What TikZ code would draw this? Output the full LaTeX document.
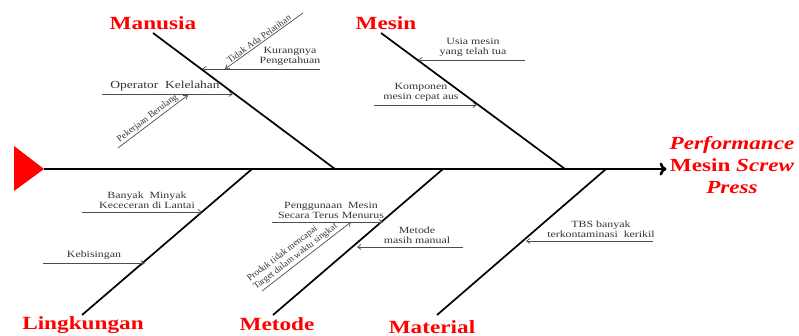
\documentclass[tikz,border=0pt]{standalone}
\usepackage{fontspec}
\setmainfont{Liberation Serif}[FakeStretch=1.25]
\newfontfamily\rotfont{Liberation Serif}
\usetikzlibrary{arrows.meta,calc}
\definecolor{fishred}{RGB}{255,0,0}
\tikzset{
  bone/.style={line width=1.7pt,black},
  cause/.style={line width=0.7pt,black!70,-{Straight Barb[length=3.5pt,width=5pt]}},
  causetext/.style={text=black!80,font=\fontsize{9.5}{10.2}\selectfont,align=center,inner sep=1pt,anchor=south},
  rottext/.style={text=black!80,font=\rotfont\fontsize{9.3}{10.3}\selectfont,align=left,inner sep=1.2pt,anchor=south},
  cattext/.style={text=fishred,font=\fontsize{18.6}{20}\selectfont\bfseries,inner sep=1pt},
}
\begin{document}
\begin{tikzpicture}[x=1pt,y=-1pt]
\useasboundingbox (0,0) rectangle (799,336);
% head triangle and spine
\fill[fishred] (14,146) -- (44,169) -- (14,191) -- cycle;
\coordinate (tail) at (44,169);
\node[text=fishred,font=\fontsize{18.5}{22}\selectfont\bfseries,align=center,inner sep=2pt] (effect) at (732,165)
  {\textit{Performance}\\Mesin \textit{Screw}\\\textit{Press}};
\draw[line width=2.6pt,-{To[length=7pt,width=13pt]}] (tail) -- ([xshift=-1pt]effect.west |- tail);

% category labels
\node[cattext] (manusia) at (153,23) {Manusia};
\node[cattext] (mesin) at (386,23) {Mesin};
\node[cattext] (lingk) at (83,325) {Lingkungan};
\node[cattext] (metode) at (277,324) {Metode};
\node[cattext] (material) at (432,327) {Material};

% bones
\coordinate (m1a) at (153,33); \coordinate (m1b) at (335,169);
\coordinate (m2a) at (381,33); \coordinate (m2b) at (565,169);
\coordinate (l1a) at (82,315); \coordinate (l1b) at (252,169);
\coordinate (l2a) at (273,315); \coordinate (l2b) at (443,169);
\coordinate (l3a) at (437,315); \coordinate (l3b) at (606,169);
\draw[bone] (m1a) -- (m1b);
\draw[bone] (m2a) -- (m2b);
\draw[bone] (l1a) -- (l1b);
\draw[bone] (l2a) -- (l2b);
\draw[bone] (l3a) -- (l3b);

% Manusia causes
\coordinate (c1s) at (303,13); \coordinate (c1e) at (225,69);
\draw[cause] (c1s) -- (c1e);
\node[rottext,rotate=35.7] (t1) at ($(c1e)!0.47!(c1s)$) {Tidak Ada Pelatihan};

\coordinate (c2s) at (320,69); \coordinate (c2e) at (202,69);
\draw[cause] (c2s) -- (c2e);
\node[causetext] (t2) at (290,67) {Kurangnya\\Pengetahuan};

\coordinate (c3s) at (102,94); \coordinate (c3e) at (233,94);
\draw[cause] (c3s) -- (c3e);
\node[causetext,font=\fontsize{10.8}{12}\selectfont] (t3) at (165,92) {Operator\ \ Kelelahan};

\coordinate (c4s) at (118,148); \coordinate (c4e) at (188,95);
\draw[cause] (c4s) -- (c4e);
\node[rottext,rotate=37.1] (t4) at ($(c4s)!0.47!(c4e)$) {Pekerjaan Berulang};

% Mesin causes
\coordinate (c5s) at (525,60); \coordinate (c5e) at (418,60);
\draw[cause] (c5s) -- (c5e);
\node[causetext] (t5) at (473,58) {Usia mesin\\yang\ telah\ tua};

\coordinate (c6s) at (374,105); \coordinate (c6e) at (477,105);
\draw[cause] (c6s) -- (c6e);
\node[causetext] (t6) at (421,103) {Komponen\\mesin cepat aus};

% Lingkungan causes
\coordinate (c7s) at (82,212); \coordinate (c7e) at (202,212);
\draw[cause] (c7s) -- (c7e);
\node[causetext] (t7) at (147,210) {Banyak\ \ Minyak\\Kececeran\ di Lantai};

\coordinate (c8s) at (43,263); \coordinate (c8e) at (145,263);
\draw[cause] (c8s) -- (c8e);
\node[causetext] (t8) at (94,261) {Kebisingan};

% Metode causes
\coordinate (c9s) at (272,222); \coordinate (c9e) at (383,222);
\draw[cause] (c9s) -- (c9e);
\node[causetext] (t9) at (331,220) {Penggunaan\ \ Mesin\\Secara Terus Menurus};

\coordinate (c10s) at (262,291); \coordinate (c10e) at (351,222);
\draw[cause] (c10s) -- (c10e);
\node[rottext,rotate=37.5,inner sep=2pt] (t10) at ($(c10s)!0.42!(c10e)$) {Produk tidak mencapai\\Target dalam waktu singkat};

\coordinate (c11s) at (463,247); \coordinate (c11e) at (357,247);
\draw[cause] (c11s) -- (c11e);
\node[causetext] (t11) at (417,245) {Metode\\masih manual};

% Material cause
\coordinate (c12s) at (653,241); \coordinate (c12e) at (526,241);
\draw[cause] (c12s) -- (c12e);
\node[causetext] (t12) at (601,239) {TBS banyak\\terkontaminasi\ \ kerikil};
\end{tikzpicture}
\end{document}
